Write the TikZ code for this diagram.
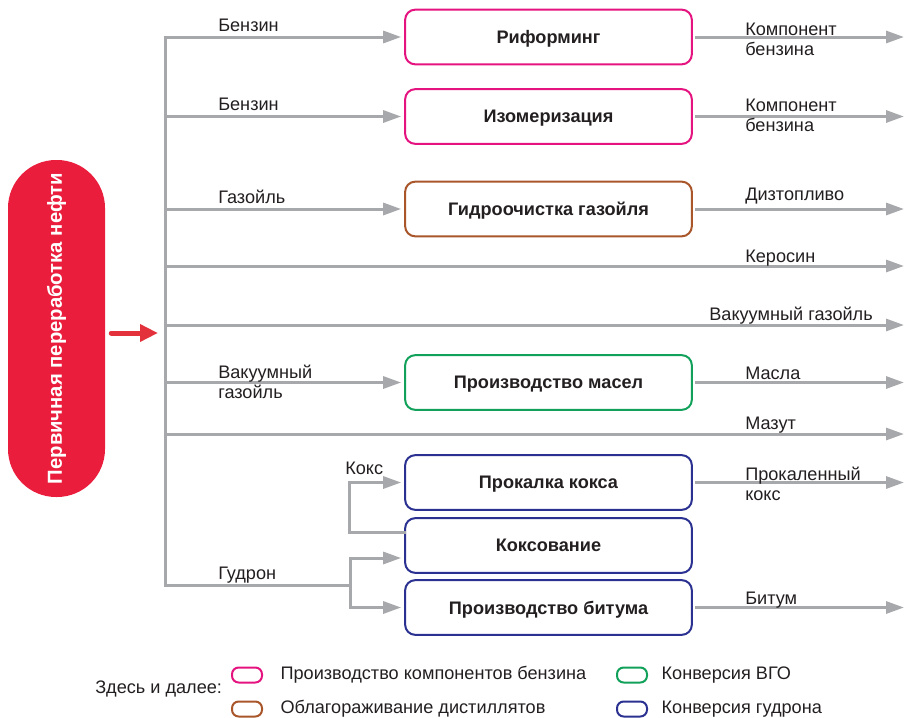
\documentclass[tikz,border=0pt]{standalone}
\usepackage{fontspec}
\setmainfont{Liberation Sans}
\usetikzlibrary{arrows.meta,calc,positioning}
\definecolor{benzcol}{HTML}{E5137F}
\definecolor{distcol}{HTML}{A8562A}
\definecolor{vgocol}{HTML}{12A15A}
\definecolor{gudcol}{HTML}{2B3190}
\definecolor{flowgray}{HTML}{A7A8AB}
\definecolor{pillred}{HTML}{EA1D3D}
\definecolor{arrred}{HTML}{E3323B}
\definecolor{inkcol}{HTML}{231F20}
\tikzstyle{unit}=[draw, line width=1.5pt, rounded corners=7.5pt,
    minimum width=215pt, minimum height=41pt, inner sep=0pt, text depth=0pt,
    text=inkcol, font=\fontsize{13.6}{16}\selectfont\bfseries]
\tikzstyle{pill}=[fill=pillred, text=white, rotate=90, rounded corners=36pt,
    minimum width=252.75pt, minimum height=72.75pt,
    font=\fontsize{15.2}{18}\selectfont\bfseries]
\tikzstyle{feed}=[draw=flowgray, line width=2.25pt, line cap=rect]
\tikzstyle{flow}=[feed, -{Triangle[length=13.5pt,width=9pt]}, shorten >=2.25pt]
\tikzstyle{inflow}=[draw=arrred, line width=3.75pt, line cap=round,
    -{Triangle[length=13.5pt,width=12.5pt]}]
\tikzstyle{lab}=[anchor=base west, inner sep=0pt, align=left, text=inkcol,
    font=\fontsize{13.6}{15}\selectfont]
\tikzstyle{key}=[draw, line width=1.5pt, rounded corners=5pt,
    minimum width=22.5pt, minimum height=11.25pt, inner sep=0pt]

\begin{document}
\begin{tikzpicture}[x=0.75pt,y=-0.75pt]
    \useasboundingbox (0,0) rectangle (904,718);

    % source
    \node[pill] (perv) at (56.5,328.5) {Первичная переработка нефти};

    % processes
    \node[unit, draw=benzcol] (rif) at (548.5,37) {Риформинг};
    \node[unit, draw=benzcol] (izom) at (548.5,116.5) {Изомеризация};
    \node[unit, draw=distcol] (gidro) at (548.5,209) {Гидроочистка газойля};
    \node[unit, draw=vgocol] (masla) at (548.5,382.5) {Производство масел};
    \node[unit, draw=gudcol] (prok) at (548.5,482.5) {Прокалка кокса};
    \node[unit, draw=gudcol] (koks) at (548.5,545.5) {Коксование};
    \node[unit, draw=gudcol] (bit) at (548.5,607.5) {Производство битума};

    \coordinate (ttop) at (165,37);
    \coordinate (tbot) at (165,585);
    \coordinate (tin) at (158,333);
    \coordinate (tker) at (165,266);
    \coordinate (tvgo) at (165,325);
    \coordinate (tmaz) at (165,434);
    \coordinate (split) at (350,585);
    \coordinate (redge) at (904,0);

    % trunk and feeds
    \draw[inflow] ($(perv.south |- tin)+(6,0)$) -- (tin);
    \draw[feed] (tbot) -- (ttop);
    \draw[flow] (ttop) -- (rif.west);
    \draw[flow] (izom.west -| ttop) -- (izom.west);
    \draw[flow] (gidro.west -| ttop) -- (gidro.west);
    \draw[flow] (masla.west -| ttop) -- (masla.west);
    \draw[flow, shorten >=0pt] (tker) -- (tker -| redge);
    \draw[flow, shorten >=0pt] (tvgo) -- (tvgo -| redge);
    \draw[flow, shorten >=0pt] (tmaz) -- (tmaz -| redge);
    \draw[feed] (tbot) -- (split);
    \draw[flow] (split) |- ($(koks.west)+(0,12.5)$);
    \draw[flow] (split) |- (bit.west);
    \draw[flow] ($(koks.west)+(0,-13.5)$) -- ++(-55,0) |- (prok.west);

    % products
    \draw[flow, shorten >=0pt] ([xshift=3pt]rif.east) -- (rif.east -| redge);
    \draw[flow, shorten >=0pt] ([xshift=3pt]izom.east) -- (izom.east -| redge);
    \draw[flow, shorten >=0pt] ([xshift=3pt]gidro.east) -- (gidro.east -| redge);
    \draw[flow, shorten >=0pt] ([xshift=3pt]masla.east) -- (masla.east -| redge);
    \draw[flow, shorten >=0pt] ([xshift=3pt]prok.east) -- (prok.east -| redge);
    \draw[flow, shorten >=0pt] ([xshift=3pt]bit.east) -- (bit.east -| redge);

    % stream labels (two-line ones sit on their last line)
    \node[lab] (lbenz1) at (218,31) {Бензин};
    \node[lab] (lbenz2) at (218,110) {Бензин};
    \node[lab] (lgaz) at (218,203) {Газойль};
    \node[lab] (lvgo) at (218,398) {Вакуумный\\газойль};
    \node[lab] (lkoks) at (345,474) {Кокс};
    \node[lab] (lgud) at (218,579) {Гудрон};
    \node[lab] (rkomp1) at (745,55) {Компонент\\бензина};
    \node[lab] (rkomp2) at (745,131) {Компонент\\бензина};
    \node[lab] (rdiz) at (745,200) {Дизтопливо};
    \node[lab] (rker) at (745,262) {Керосин};
    \node[lab, anchor=base east] (rvgo) at (873,320) {Вакуумный газойль};
    \node[lab] (rmasla) at (745,379) {Масла};
    \node[lab] (rmaz) at (745,429) {Мазут};
    \node[lab] (rprok) at (745,500) {Прокаленный\\кокс};
    \node[lab] (rbit) at (745,604) {Битум};

    % legend
    \node[lab] (legend) at (95,693) {Здесь и далее:};
    \node[key, draw=benzcol] (kbenz) at (247,675) {};
    \node[key, draw=distcol] (kdist) at (247,709) {};
    \node[key, draw=vgocol] (kvgo) at (632,675) {};
    \node[key, draw=gudcol] (kgud) at (632,709) {};
    \node[lab, anchor=west, right=13pt of kbenz] (tbenz) {Производство компонентов бензина};
    \node[lab, anchor=west, right=13pt of kdist] (tdist) {Облагораживание дистиллятов};
    \node[lab, anchor=west, right=10pt of kvgo] (tvgo) {Конверсия ВГО};
    \node[lab, anchor=west, right=10pt of kgud] (tgud) {Конверсия гудрона};
\end{tikzpicture}
\end{document}
